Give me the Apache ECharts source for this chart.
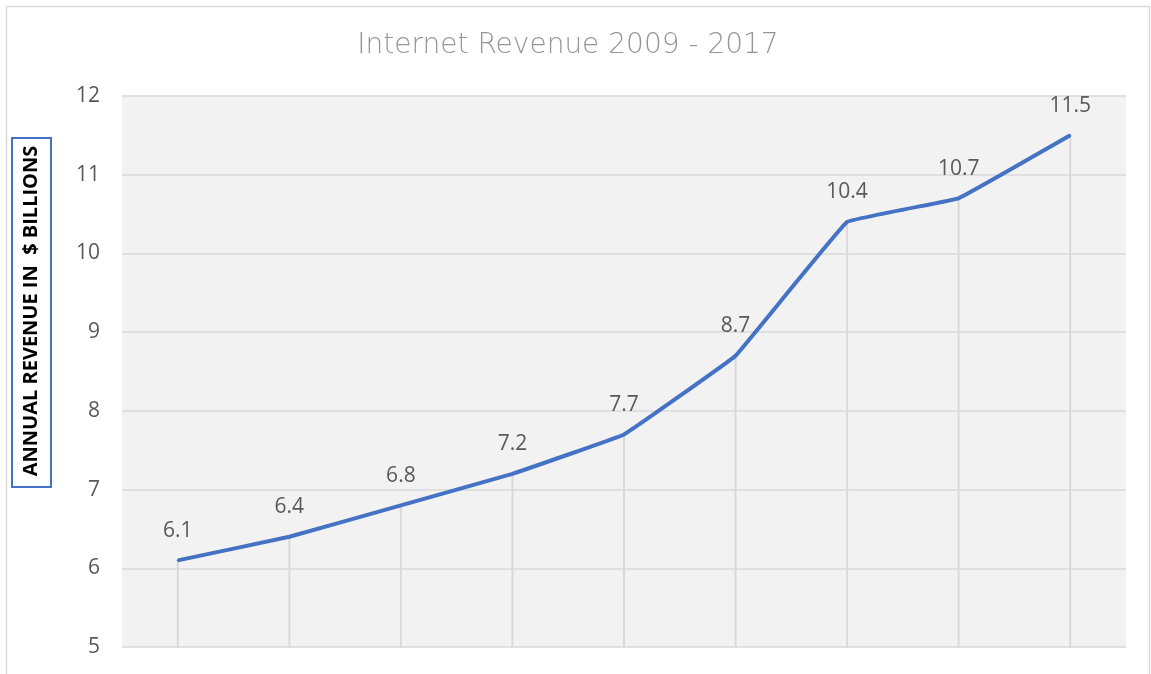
<!DOCTYPE html>
<html>
<head>
<meta charset="utf-8">
<script src="https://cdn.jsdelivr.net/npm/echarts@6/dist/echarts.min.js"></script>
<style>html,body{margin:0;padding:0;background:#fff}#c{width:1151px;height:674px}</style>
</head>
<body>
<div id="c"></div>
<script>
var titleText = 'Internet Revenue 2009 - 2017';
var yAxisTitle = 'ANNUAL REVENUE IN  $ BILLIONS';
var years = ['2009','2010','2011','2012','2013','2014','2015','2016','2017'];
var revenue = [6.1, 6.4, 6.8, 7.2, 7.7, 8.7, 10.4, 10.7, 11.5];
var yMin = 5, yMax = 12, yStep = 1;

var chart = echarts.init(document.getElementById('c'), null, {renderer: 'canvas'});
chart.setOption({
  animation: false,
  backgroundColor: '#ffffff',
  title: {
    text: titleText, left: 563, top: 27, textAlign: 'center',
    textStyle: {fontFamily: 'DejaVu Sans', fontWeight: 300, fontSize: 28, color: '#969696'}
  },
  grid: {left: 122, right: 25, top: 96, bottom: 27, show: true, backgroundColor: '#f2f2f2', borderWidth: 0},
  xAxis: {
    type: 'category', data: years, boundaryGap: true,
    axisLine: {show: false}, axisTick: {show: false}, axisLabel: {show: false}, splitLine: {show: false}
  },
  yAxis: {
    type: 'value', min: yMin, max: yMax, interval: yStep,
    axisLine: {show: false}, axisTick: {show: false},
    axisLabel: {fontSize: 21, color: '#595959', fontFamily: 'Open Sans', margin: 22},
    splitLine: {lineStyle: {color: '#d9d9d9', width: 1.5}}
  },
  graphic: [
    {type: 'rect', left: 4, top: 4, shape: {width: 1143, height: 680}, style: {fill: 'none', stroke: '#d9d9d9', lineWidth: 1.5}, silent: true},
    {type: 'rect', left: 11, top: 137, shape: {width: 39, height: 349}, style: {fill: '#ffffff', stroke: '#4472c4', lineWidth: 2}},
    {type: 'text', x: 31, y: 311, rotation: Math.PI / 2,
      style: {text: yAxisTitle, fontSize: 20, fontWeight: 'bold', fontFamily: 'Open Sans', fill: '#000000', align: 'center', verticalAlign: 'middle'}}
  ],
  series: [
    {type: 'bar', data: revenue, barWidth: 2, itemStyle: {color: '#d9d9d9'}, silent: true, z: 1},
    {type: 'line', data: revenue, smooth: 0.05, symbol: 'circle', symbolSize: 2, showSymbol: true, z: 3,
      itemStyle: {color: '#4472c4'},
      lineStyle: {color: '#4472c4', width: 4},
      label: {show: true, position: 'top', distance: 18, fontSize: 21, color: '#595959', fontFamily: 'Open Sans'},
      labelLayout: {hideOverlap: false}
    }
  ]
});
</script>
</body>
</html>
